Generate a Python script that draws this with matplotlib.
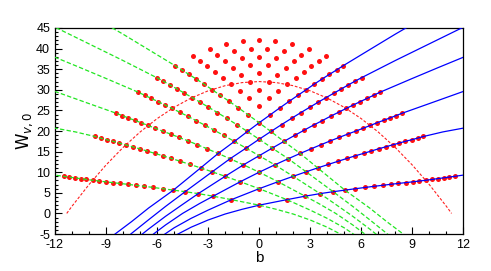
import numpy as np
import matplotlib.pyplot as plt
from matplotlib.ticker import MultipleLocator

plt.rcParams['font.family'] = ['Liberation Sans', 'DejaVu Sans']
plt.rcParams['axes.unicode_minus'] = False

# crossing points for b >= 0; row n, entry i is the crossing of level n (b) with level n+i (-b)
dot_b = [
    [0.0, 1.63, 2.70, 3.58, 4.35, 5.04, 5.66, 6.23, 6.76, 7.26, 7.73, 8.18, 8.61, 9.02, 9.41, 9.79, 10.15, 10.50, 10.84, 11.17, 11.49],
    [0.0, 1.11, 2.00, 2.76, 3.44, 4.06, 4.63, 5.16, 5.66, 6.14, 6.59, 7.02, 7.44, 7.84, 8.23, 8.60, 8.97, 9.32, 9.66],
    [0.0, 0.92, 1.71, 2.41, 3.05, 3.64, 4.19, 4.71, 5.20, 5.67, 6.11, 6.53, 6.93, 7.32, 7.70, 8.06, 8.41],
    [0.0, 0.77, 1.455, 2.08, 2.66, 3.20, 3.72, 4.20, 4.67, 5.11, 5.54, 5.95, 6.35, 6.73, 7.10],
    [0.0, 0.69, 1.32, 1.91, 2.46, 2.98, 3.47, 3.94, 4.39, 4.82, 5.23, 5.63, 6.02],
    [0.0, 0.64, 1.22, 1.77, 2.29, 2.78, 3.24, 3.69, 4.13, 4.55, 4.95],
    [0.0, 0.585, 1.13, 1.65, 2.14, 2.61, 3.06, 3.50, 3.91],
    [0.0, 0.55, 1.07, 1.56, 2.03, 2.48, 2.91],
    [0.0, 0.51, 1.00, 1.47, 1.93],
    [0.0, 0.49, 0.96],
    [0.0],
]
dot_w = [
    [2.00, 3.34, 4.18, 4.80, 5.27, 5.65, 5.99, 6.30, 6.58, 6.82, 7.06, 7.27, 7.47, 7.66, 7.86, 8.04, 8.24, 8.44, 8.63, 8.81, 8.99],
    [6.00, 7.69, 9.00, 10.10, 11.04, 11.88, 12.64, 13.34, 13.99, 14.57, 15.14, 15.68, 16.16, 16.63, 17.07, 17.51, 17.88, 18.28, 18.67],
    [10.00, 11.79, 13.27, 14.55, 15.67, 16.69, 17.61, 18.45, 19.24, 19.96, 20.67, 21.34, 21.99, 22.60, 23.18, 23.76, 24.32],
    [14.00, 15.85, 17.47, 18.92, 20.23, 21.44, 22.54, 23.59, 24.55, 25.47, 26.33, 27.15, 27.92, 28.68, 29.40],
    [18.00, 19.88, 21.56, 23.09, 24.49, 25.78, 26.99, 28.12, 29.18, 30.19, 31.16, 32.08, 32.94],
    [22.00, 23.90, 25.63, 27.22, 28.69, 30.07, 31.38, 32.60, 33.74, 34.82, 35.87],
    [26.00, 27.91, 29.68, 31.32, 32.86, 34.30, 35.66, 36.94, 38.18],
    [30.00, 31.92, 33.71, 35.39, 36.97, 38.46, 39.88],
    [34.00, 35.93, 37.75, 39.46, 41.07],
    [38.00, 39.94, 41.77],
    [42.00],
]

# parts of the solid curves beyond the crossing points
tail_left_b = [
    [-5.0, -4.0, -3.0, -2.0, -1.0],
    [-6.0, -5.0, -4.0, -3.0],
    [-6.5, -5.5, -4.5, -3.5],
    [-7.5, -6.5, -5.5, -4.5],
    [-8.0, -7.5, -6.5, -5.5],
    [-9.0, -8.5, -7.5, -6.5],
]
tail_left_w = [
    [-5.5, -3.35, -1.6, -0.15, 1.0],
    [-6.3, -3.5, -1.2, 0.8],
    [-5.9, -2.8, 0.0, 2.4],
    [-7.1, -3.8, -0.7, 2.18],
    [-6.6, -4.85, -1.55, 1.7],
    [-6.7, -5.1, -2.0, 1.3],
]
tail_right_b = [
    [12.0],
    [10.8, 12.0],
    [10.0, 12.0],
    [9.0, 10.5, 12.0],
    [8.0, 10.0, 12.0],
    [6.5, 8.0, 9.5],
]
tail_right_w = [
    [9.3],
    [19.78, 20.7],
    [26.65, 29.6],
    [32.75, 35.35, 37.9],
    [37.1, 41.15, 45.2],
    [39.75, 43.5, 47.1],
]

# dashed red boundary
para_b = [-11.31, -11, -10, -9, -8, -7, -6, -5, -4, -3, -2, -1, 0,
          1, 2, 3, 4, 5, 6, 7, 8, 9, 10, 11, 11.31]
para_w = [0.0, 1.75, 7.0, 11.75, 16.0, 19.75, 23.0, 25.75, 28.0, 29.75, 31.0, 31.75, 32.0,
          31.75, 31.0, 29.75, 28.0, 25.75, 23.0, 19.75, 16.0, 11.75, 7.0, 1.75, 0.0]

n_levels = len(tail_left_b)

fig = plt.figure(figsize=(4.91, 2.71), dpi=100)
ax = fig.add_axes([0.112, 0.1365, 0.8316, 0.7602])

for n in range(n_levels):
    bb = list(tail_left_b[n])
    ww = list(tail_left_w[n])
    for m in range(n):
        bb.append(-dot_b[m][n - m])
        ww.append(dot_w[m][n - m])
    bb += dot_b[n] + tail_right_b[n]
    ww += dot_w[n] + tail_right_w[n]
    bb = np.array(bb)
    ww = np.array(ww)
    ax.plot(bb, ww, color='#0000ff', lw=0.9, zorder=3)
    ax.plot(-bb, ww, color='#22e622', lw=0.9, ls=(0, (3.5, 1.8)), zorder=3)

for n in range(len(dot_b)):
    b = np.array(dot_b[n])
    w = np.array(dot_w[n])
    ax.plot(b, w, 'o', color='#ff1010', ms=3.6, mew=0, zorder=2)
    ax.plot(-b[1:], w[1:], 'o', color='#ff1010', ms=3.6, mew=0, zorder=2)

ax.plot(para_b, para_w, color='#ff2020', lw=0.8, ls=(0, (2.5, 1.6)), zorder=2)

ax.set_xlim(-12, 12)
ax.set_ylim(-5, 45)
ax.xaxis.set_major_locator(MultipleLocator(3))
ax.xaxis.set_minor_locator(MultipleLocator(1))
ax.yaxis.set_major_locator(MultipleLocator(5))
ax.yaxis.set_minor_locator(MultipleLocator(1))
ax.tick_params(which='both', direction='in', top=False, right=False, labelsize=9, width=0.8)
ax.tick_params(which='major', length=5)
ax.tick_params(which='minor', length=2.5)
for s in ax.spines.values():
    s.set_linewidth(0.9)

ax.set_xlabel('b', fontsize=11, labelpad=0)
ax.set_ylabel(r'$\mathrm{W}_{v,0}$', fontsize=12, labelpad=1)

fig.savefig('out.png', dpi=100)
